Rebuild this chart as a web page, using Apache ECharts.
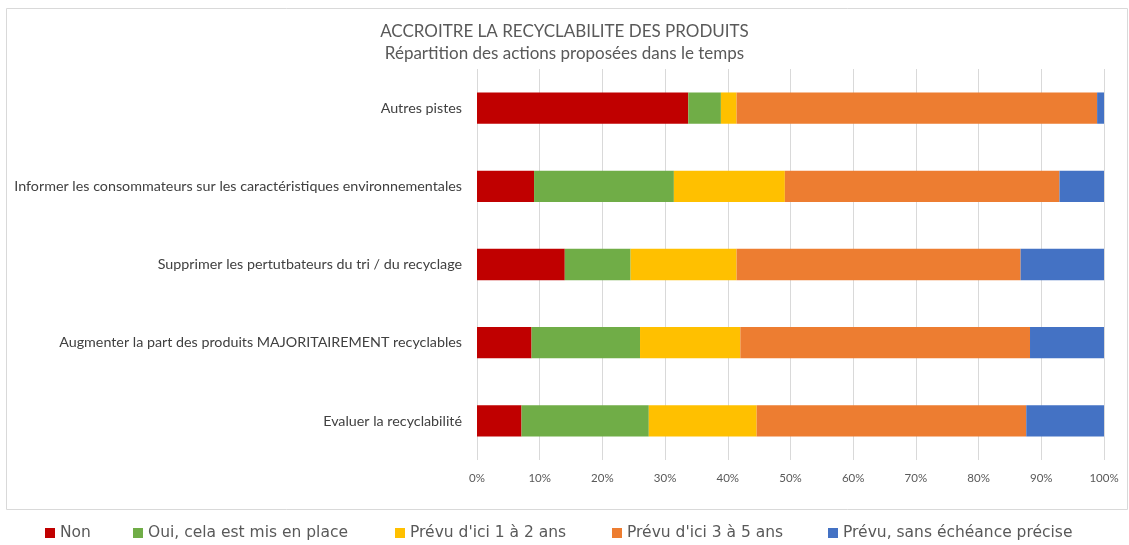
<!DOCTYPE html>
<html><head><meta charset="utf-8">
<script src="https://cdn.jsdelivr.net/npm/echarts@6/dist/echarts.min.js"></script>
<style>html,body{margin:0;padding:0;background:#fff}#c{width:1129px;height:545px}</style>
</head><body><div id="c"></div>
<script>
const categories = ['Evaluer la recyclabilité','Augmenter la part des produits MAJORITAIREMENT recyclables','Supprimer les pertutbateurs du tri / du recyclage','Informer les consommateurs sur les caractéristiques environnementales','Autres pistes'];
const seriesNames = ['Non','Oui, cela est mis en place','Prévu d\'ici 1 à 2 ans','Prévu d\'ici 3 à 5 ans','Prévu, sans échéance précise'];
const colors = ['#C00000','#70AD47','#FFC000','#ED7D31','#4472C4'];
const non      = [7.1, 8.7, 14.0, 9.1, 33.7];
const oui      = [20.3, 17.3, 10.5, 22.3, 5.2];
const ans12    = [17.2, 16.0, 16.9, 17.7, 2.5];
const ans35    = [43.0, 46.2, 45.3, 43.8, 57.5];
const sansEch  = [12.4, 11.8, 13.3, 7.1, 1.1];
const values = [non, oui, ans12, ans35, sansEch];
const legendLeft = [45, 133, 395, 612, 828];

const chart = echarts.init(document.getElementById('c'));
const font = 'Lato, "Open Sans", sans-serif';
chart.setOption({
  animation:false,
  title:{text:'ACCROITRE LA RECYCLABILITE DES PRODUITS\nRépartition des actions proposées dans le temps',
    left:'center', top:16,
    textStyle:{fontFamily:font,fontSize:17,fontWeight:'normal',color:'#595959',lineHeight:22}},
  graphic:[{type:'rect',shape:{x:6.5,y:8.5,width:1121,height:501},style:{fill:'none',stroke:'#d9d9d9',lineWidth:1},silent:true}],
  legend: seriesNames.map((n,i)=>({data:[n],left:legendLeft[i],top:525,padding:0,itemWidth:10,itemHeight:10,itemGap:5,
    icon:'rect',textStyle:{fontFamily:'"DejaVu Sans", sans-serif',fontSize:15.5,color:'#595959',padding:[0,0,0,0]}})),
  grid:{left:477,right:25,top:69,bottom:85},
  xAxis:{type:'value',min:0,max:100,interval:10,
    axisLabel:{formatter:'{value}%',fontFamily:font,fontSize:11.5,color:'#595959',margin:12},
    axisLine:{show:false},axisTick:{show:false},
    splitLine:{lineStyle:{color:'#d9d9d9',width:1}}},
  yAxis:{type:'category',data:categories,
    axisLabel:{fontFamily:font,fontSize:14.3,color:'#404040',margin:15},
    axisLine:{show:false},axisTick:{show:false}},
  series: seriesNames.map((n,i)=>({name:n,type:'bar',stack:'t',data:values[i],barWidth:'40%',
    itemStyle:{color:colors[i]}}))
});
</script></body></html>
